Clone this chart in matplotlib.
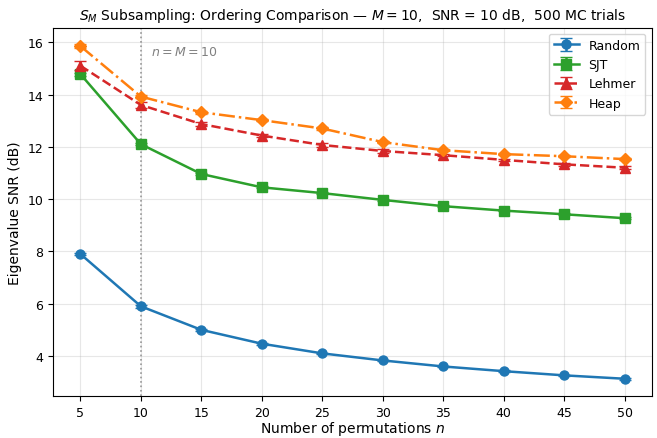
import matplotlib
matplotlib.use("Agg")
import matplotlib.pyplot as plt
import numpy as np

n_values = [5, 10, 15, 20, 25, 30, 35, 40, 45, 50]
random_snr = [7.90, 5.90, 5.00, 4.47, 4.10, 3.83, 3.60, 3.42, 3.26, 3.13]
sjt_snr = [14.78, 12.10, 10.96, 10.45, 10.23, 9.97, 9.73, 9.56, 9.42, 9.27]
lehmer_snr = [15.10, 13.60, 12.87, 12.43, 12.07, 11.84, 11.68, 11.50, 11.33, 11.20]
heap_snr = [15.85, 13.92, 13.32, 13.02, 12.70, 12.18, 11.87, 11.72, 11.64, 11.53]
random_err = [0.05, 0.05, 0.04, 0.04, 0.03, 0.03, 0.03, 0.03, 0.03, 0.03]
sjt_err = [0.06, 0.05, 0.05, 0.04, 0.04, 0.04, 0.04, 0.03, 0.03, 0.03]
lehmer_err = [0.18, 0.10, 0.08, 0.07, 0.06, 0.06, 0.05, 0.05, 0.05, 0.05]
heap_err = [0.07, 0.06, 0.05, 0.05, 0.05, 0.04, 0.04, 0.04, 0.04, 0.04]
M = 10

fig, ax = plt.subplots(figsize=(6.57, 4.39), dpi=100)

series = [
    ("Random", random_snr, random_err, "#1f77b4", "o", "-"),
    ("SJT", sjt_snr, sjt_err, "#2ca02c", "s", "-"),
    ("Lehmer", lehmer_snr, lehmer_err, "#d62728", "^", "--"),
    ("Heap", heap_snr, heap_err, "#ff7f0e", "D", "-."),
]
for label, vals, err, color, marker, ls in series:
    ax.errorbar(n_values, vals, yerr=err, label=label, color=color, marker=marker,
                linestyle=ls, linewidth=1.8, markersize=6.5, capsize=4)

ax.axvline(M, color="gray", linestyle=":", linewidth=1.2, alpha=0.8)
ax.text(M + 0.8, 15.5, r"$n = M = 10$", color="gray", fontsize=9)

ax.set_xticks(n_values)
ax.tick_params(labelsize=9)
ax.set_xlabel(r"Number of permutations $n$", fontsize=10, labelpad=0)
ax.set_ylabel("Eigenvalue SNR (dB)", fontsize=10)
ax.set_title(r"$S_M$ Subsampling: Ordering Comparison — $M = 10$,  SNR = 10 dB,  500 MC trials",
             fontsize=10)
ax.grid(True, alpha=0.3)
ax.legend(loc="upper right", fontsize=9)

fig.subplots_adjust(left=0.081, right=0.992, top=0.935, bottom=0.095)
fig.savefig("out.png", dpi=100)
